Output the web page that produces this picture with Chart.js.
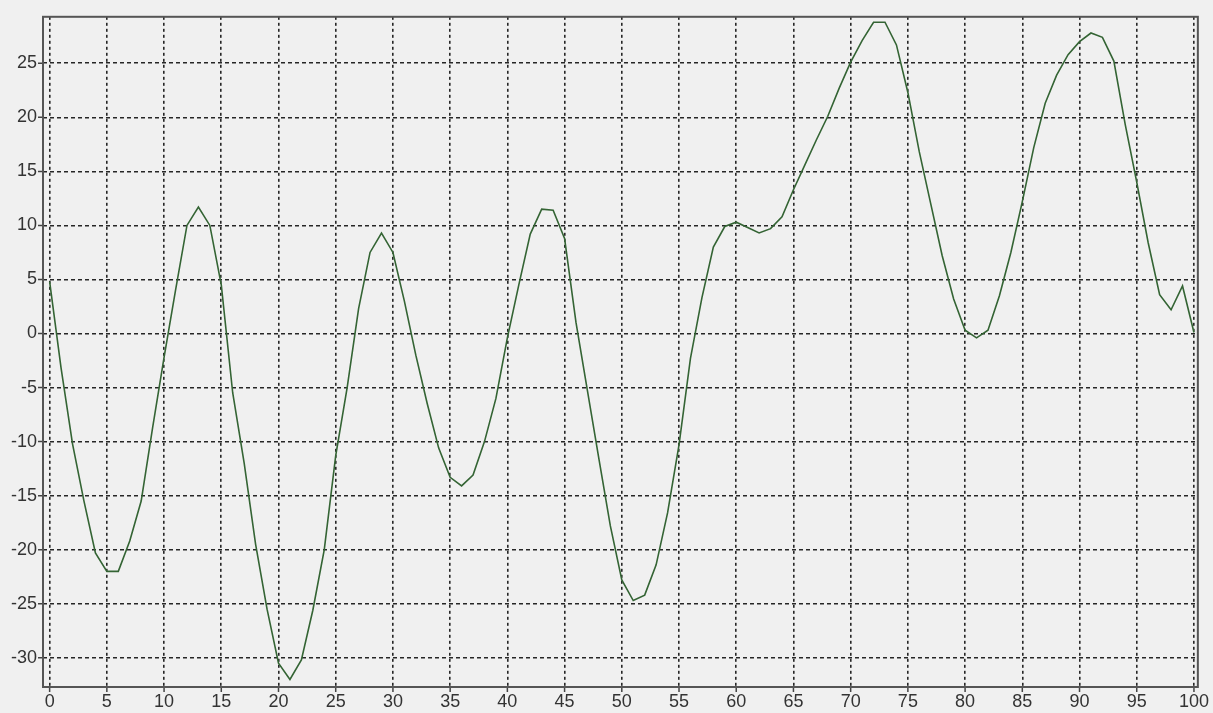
<!DOCTYPE html>
<html lang="en">
<head>
    <meta charset="UTF-8">
    <title>Line chart</title>
    <script src="https://cdn.jsdelivr.net/npm/chart.js"></script>
    <style>
        body {
            margin: 0;
            padding: 0;
            background-color: #f0f0f0;
        }
        .chart-container {
            width: 1213px;
            height: 713px;
        }
    </style>
</head>
<body>
    <div class="chart-container">
        <canvas id="lineChart"></canvas>
    </div>

    <script>
        // Sample positions and values
        const xValues = [0, 1, 2, 3, 4, 5, 6, 7, 8, 9,
            10, 11, 12, 13, 14, 15, 16, 17, 18, 19,
            20, 21, 22, 23, 24, 25, 26, 27, 28, 29,
            30, 31, 32, 33, 34, 35, 36, 37, 38, 39,
            40, 41, 42, 43, 44, 45, 46, 47, 48, 49,
            50, 51, 52, 53, 54, 55, 56, 57, 58, 59,
            60, 61, 62, 63, 64, 65, 66, 67, 68, 69,
            70, 71, 72, 73, 74, 75, 76, 77, 78, 79,
            80, 81, 82, 83, 84, 85, 86, 87, 88, 89,
            90, 91, 92, 93, 94, 95, 96, 97, 98, 99, 100];

        const yValues = [4.8, -3.2, -10.2, -15.5, -20.3, -22, -22, -19.2, -15.5, -8.7,
            -2.2, 4, 10, 11.7, 10, 4.5, -5.5, -12, -19.5, -25.5,
            -30.5, -32, -30.2, -25.6, -20, -11.3, -5, 2.3, 7.5, 9.3,
            7.5, 3, -2, -6.5, -10.6, -13.3, -14.1, -13.1, -10, -6,
            -0.4, 4.5, 9.2, 11.5, 11.4, 8.8, 1, -5.3, -11.6, -17.8,
            -22.8, -24.7, -24.2, -21.4, -16.6, -10.3, -2.3, 3.3, 8, 9.9,
            10.3, 9.8, 9.3, 9.7, 10.8, 13.3, 15.6, 17.9, 20.1, 22.7,
            25.1, 27.1, 28.8, 28.8, 26.7, 22.3, 16.8, 12, 7.2, 3.2,
            0.3, -0.4, 0.3, 3.5, 7.5, 12.2, 17.2, 21.3, 23.9, 25.8,
            27, 27.8, 27.4, 25.2, 19.3, 14, 8.4, 3.6, 2.2, 4.4, 0.1];

        const xTicks = [0, 5, 10, 15, 20, 25, 30, 35, 40, 45, 50,
            55, 60, 65, 70, 75, 80, 85, 90, 95, 100];
        const yTicks = [-30, -25, -20, -15, -10, -5, 0, 5, 10, 15, 20, 25];

        const points = xValues.map((x, i) => ({ x: x, y: yValues[i] }));

        // frame round the plot and short solid tick marks outside it
        const framePlugin = {
            id: 'frame',
            afterDraw(chart) {
                const { ctx, chartArea: a, scales } = chart;
                ctx.save();
                ctx.strokeStyle = '#444';
                ctx.lineWidth = 1.5;
                ctx.beginPath();
                scales.x.ticks.forEach(t => {
                    const px = scales.x.getPixelForValue(t.value);
                    ctx.moveTo(px, a.bottom);
                    ctx.lineTo(px, a.bottom + 5);
                });
                scales.y.ticks.forEach(t => {
                    const py = scales.y.getPixelForValue(t.value);
                    ctx.moveTo(a.left - 5, py);
                    ctx.lineTo(a.left, py);
                });
                ctx.stroke();
                ctx.strokeStyle = '#555';
                ctx.lineWidth = 2;
                ctx.strokeRect(a.left, a.top, a.right - a.left, a.bottom - a.top);
                ctx.restore();
            }
        };

        const tickFont = { family: 'Liberation Sans', size: 18 };

        const ctx = document.getElementById('lineChart').getContext('2d');
        const lineChart = new Chart(ctx, {
            type: 'line',
            data: {
                datasets: [{
                    data: points,
                    borderColor: 'rgb(52, 100, 52)',
                    borderWidth: 1.6,
                    pointRadius: 0,
                    tension: 0,
                    fill: false
                }]
            },
            options: {
                responsive: true,
                maintainAspectRatio: false,
                animation: false,
                layout: { padding: { top: 15, right: 8, left: 0, bottom: 0 } },
                plugins: {
                    legend: { display: false },
                    tooltip: { enabled: false }
                },
                scales: {
                    x: {
                        type: 'linear',
                        min: -0.58,
                        max: 100.34,
                        afterBuildTicks: s => { s.ticks = xTicks.map(v => ({ value: v })); },
                        afterFit: s => { s.height = 26; },
                        grid: { color: '#262626', lineWidth: 1.6, drawTicks: false },
                        border: { display: false, dash: [3, 3] },
                        ticks: {
                            color: '#333',
                            font: tickFont,
                            padding: 4,
                            maxRotation: 0,
                            autoSkip: false
                        }
                    },
                    y: {
                        min: -32.7,
                        max: 29.3,
                        afterBuildTicks: s => { s.ticks = yTicks.map(v => ({ value: v })); },
                        afterFit: s => { s.width = 43; },
                        grid: { color: '#262626', lineWidth: 1.6, drawTicks: false },
                        border: { display: false, dash: [4, 3] },
                        ticks: {
                            color: '#333',
                            font: tickFont,
                            padding: 6,
                            autoSkip: false
                        }
                    }
                }
            },
            plugins: [framePlugin]
        });
    </script>
</body>
</html>
